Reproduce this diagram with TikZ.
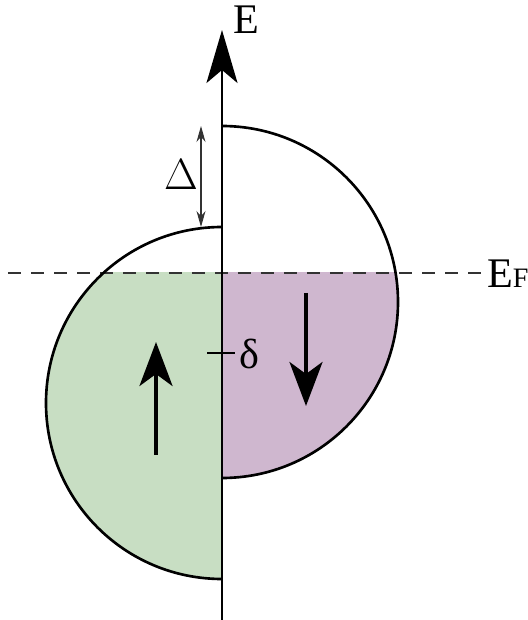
\documentclass[tikz,border=0pt]{standalone}
\usepackage{fontspec}
\setmainfont{Liberation Serif}
\usetikzlibrary{arrows.meta}
\definecolor{cUp}{RGB}{200,222,195}
\definecolor{cDn}{RGB}{207,183,207}

\begin{document}
\begin{tikzpicture}[
    x=0.02cm, y=0.02cm, font=\fontsize{24}{26}\selectfont,
    band/.style={draw=black, line width=1.5pt},
    axis/.style={draw=black, line width=1.4pt,
                 -{Stealth[length=1.06cm, width=0.62cm, inset=0.26cm]}},
    spin/.style={draw=black, line width=2.1pt,
                 -{Stealth[length=0.88cm, width=0.66cm, inset=0.24cm]}},
    gap/.style={draw=black!80, line width=0.6pt,
                {Stealth[length=0.32cm, width=0.18cm]}-{Stealth[length=0.32cm, width=0.18cm]}},
    fermi/.style={draw=black!80, line width=1pt, dash pattern=on 7.4pt off 5.7pt},
    lbl/.style={inner sep=1pt},
]
\useasboundingbox (0,0) rectangle (528,620);

% ===================== puntos de referencia =====================
\coordinate (axbot) at (222,0);
\coordinate (axtop) at (222,590);
\coordinate (rtop) at (222,494);   % borde superior banda minoritaria
\coordinate (ltop) at (222,393);   % borde superior banda mayoritaria
\coordinate (efL) at (8,347);
\coordinate (efR) at (483,347);

% ===================== rellenos bajo E_F =====================
\begin{scope}
    \clip (0,0) rectangle (528,347);
    \fill[cUp] (ltop) arc[start angle=90, end angle=270, radius=176] -- cycle;
    \fill[cDn] (rtop) arc[start angle=90, end angle=-90, radius=176] -- cycle;
\end{scope}

% ===================== nivel de Fermi =====================
\draw[fermi] (efL) -- (efR);
\node[lbl, anchor=west] (EF) at (485,346) {E{\fontsize{16}{17}\selectfont F}};

% ===================== bandas =====================
\draw[band] (ltop) arc[start angle=90, end angle=270, radius=176];
\draw[band] (rtop) arc[start angle=90, end angle=-90, radius=176];

% ===================== eje de energia =====================
\draw[axis] (axbot) -- (axtop);
\node[lbl] (E) at (246,600) {E};

% ===================== desdoblamiento =====================
\coordinate (gtop) at (201,494);
\coordinate (gbot) at (201,393);
\draw[gap] (gtop) -- (gbot);
\node[lbl] (Delta) at (181,445) {$\Delta$};

\coordinate (dL) at (207,267);
\coordinate (dR) at (235,267);
\draw[black, line width=0.7pt] (dL) -- (dR);
\node[lbl] (delta) at (249,266) {δ};

% ===================== espines =====================
\coordinate (upA) at (156,165);
\coordinate (upB) at (156,278);
\draw[spin] (upA) -- (upB);
\coordinate (dnA) at (306,327);
\coordinate (dnB) at (306,214);
\draw[spin] (dnA) -- (dnB);

\end{tikzpicture}
\end{document}
